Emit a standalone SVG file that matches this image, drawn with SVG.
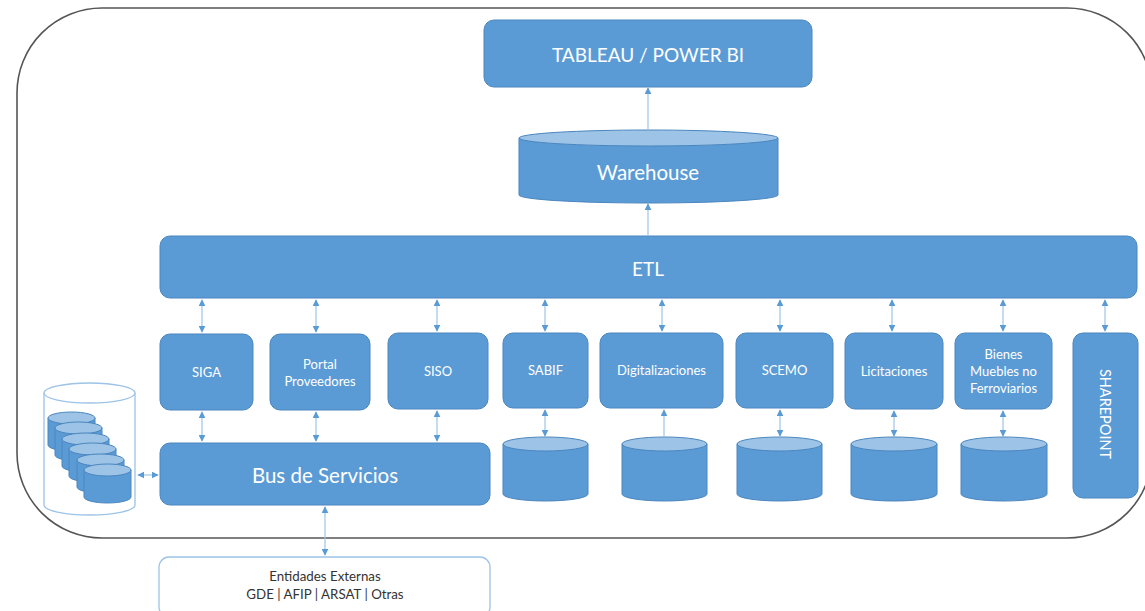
<svg xmlns="http://www.w3.org/2000/svg" width="1145" height="611" viewBox="0 0 1145 611">
  <defs>
    <marker id="ah" viewBox="0 0 10 10" refX="9" refY="5" markerWidth="7" markerHeight="7" markerUnits="userSpaceOnUse" orient="auto-start-reverse">
      <path d="M0,0 L10,5 L0,10 Z" fill="#5B9BD5"/>
    </marker>
  </defs>
  <style>
    .box { fill: #5B9BD5; stroke: #4A86BF; stroke-width: 1; }
    .top { fill: #9DC3E6; stroke: #4A86BF; stroke-width: 1; }
    .lbl { font-family: Lato, "Open Sans", sans-serif; fill: #FFFFFF; text-anchor: middle; dominant-baseline: central; }
    .sm { font-size: 13px; }
    .lg { font-size: 19px; }
    .xl { font-size: 20.5px; }
    .ext { font-family: Lato, "Open Sans", sans-serif; font-size: 13.3px; fill: #333333; text-anchor: middle; dominant-baseline: central; }
    .wire { stroke: #9DC3E6; stroke-width: 1.2; fill: none; }
    .two { marker-start: url(#ah); marker-end: url(#ah); }
    .one { marker-end: url(#ah); }
  </style>

  <!-- outer frame -->
  <rect x="17" y="8" width="1135" height="530" rx="85" ry="85" fill="none" stroke="#555555" stroke-width="1.6"/>

  <g id="tableau">
    <rect class="box" x="484" y="20" width="328" height="67" rx="10"/>
    <text class="lbl lg" x="648" y="54">TABLEAU / POWER BI</text>
  </g>

  <g id="warehouse">
    <path class="box" d="M519,138 L519,195 A129.5,8 0 0 0 778,195 L778,138 Z"/>
    <ellipse class="top" cx="648.5" cy="138" rx="129.5" ry="8"/>
    <text class="lbl xl" x="648" y="172">Warehouse</text>
  </g>

  <g id="etl">
    <rect class="box" x="160" y="236" width="977" height="62" rx="10"/>
    <text class="lbl lg" x="648" y="268">ETL</text>
  </g>

  <g id="siga">
    <rect class="box" x="160" y="334" width="93" height="76" rx="10"/>
    <text class="lbl sm" x="206.5" y="372">SIGA</text>
  </g>
  <g id="portal">
    <rect class="box" x="270" y="334" width="100" height="76" rx="10"/>
    <text class="lbl sm" x="320" y="364">Portal</text>
    <text class="lbl sm" x="320" y="381">Proveedores</text>
  </g>
  <g id="siso">
    <rect class="box" x="388" y="333" width="100" height="76" rx="10"/>
    <text class="lbl sm" x="438" y="371">SISO</text>
  </g>
  <g id="sabif">
    <rect class="box" x="503" y="333" width="85" height="75" rx="10"/>
    <text class="lbl sm" x="545.5" y="370">SABIF</text>
  </g>
  <g id="digitalizaciones">
    <rect class="box" x="600" y="333" width="123" height="75" rx="10"/>
    <text class="lbl sm" x="661.5" y="370">Digitalizaciones</text>
  </g>
  <g id="scemo">
    <rect class="box" x="736" y="333" width="97" height="75" rx="10"/>
    <text class="lbl sm" x="784.5" y="370">SCEMO</text>
  </g>
  <g id="licitaciones">
    <rect class="box" x="845" y="333" width="98" height="76" rx="10"/>
    <text class="lbl sm" x="894" y="371">Licitaciones</text>
  </g>
  <g id="bienes">
    <rect class="box" x="955" y="333" width="97" height="76" rx="10"/>
    <text class="lbl sm" x="1003.5" y="354">Bienes</text>
    <text class="lbl sm" x="1003.5" y="371">Muebles no</text>
    <text class="lbl sm" x="1003.5" y="388">Ferroviarios</text>
  </g>
  <g id="sharepoint">
    <rect class="box" x="1073" y="333" width="65" height="165" rx="10"/>
    <text class="lbl" font-size="14.5" x="0" y="0" transform="translate(1105.5,414) rotate(90)">SHAREPOINT</text>
  </g>

  <g id="bus">
    <rect class="box" x="160" y="443" width="330" height="62" rx="10"/>
    <text class="lbl xl" x="325" y="475">Bus de Servicios</text>
  </g>

  <g id="externas">
    <rect x="159" y="557" width="331" height="60" rx="10" fill="#FFFFFF" stroke="#9DC3E6" stroke-width="1.3"/>
    <text class="ext" x="325" y="576">Entidades Externas</text>
    <text class="ext" x="325" y="594">GDE | AFIP | ARSAT | Otras</text>
  </g>

  <!-- databases under the systems -->
  <g id="db-sabif">
    <path class="box" d="M503,444 L503,494 A42.5,7 0 0 0 588,494 L588,444 Z"/>
    <ellipse class="top" cx="545.5" cy="444" rx="42.5" ry="7"/>
  </g>
  <g id="db-digitalizaciones">
    <path class="box" d="M622,444 L622,494 A42.5,7 0 0 0 707,494 L707,444 Z"/>
    <ellipse class="top" cx="664.5" cy="444" rx="42.5" ry="7"/>
  </g>
  <g id="db-scemo">
    <path class="box" d="M737,444 L737,494 A42.5,7 0 0 0 822,494 L822,444 Z"/>
    <ellipse class="top" cx="779.5" cy="444" rx="42.5" ry="7"/>
  </g>
  <g id="db-licitaciones">
    <path class="box" d="M851,444 L851,494 A43,7 0 0 0 937,494 L937,444 Z"/>
    <ellipse class="top" cx="894" cy="444" rx="43" ry="7"/>
  </g>
  <g id="db-bienes">
    <path class="box" d="M961,444 L961,494 A43,7 0 0 0 1047,494 L1047,444 Z"/>
    <ellipse class="top" cx="1004" cy="444" rx="43" ry="7"/>
  </g>

  <!-- storage array: transparent drum holding a stack of disks -->
  <g id="storage">
    <path d="M44,393 L44,505 A45.5,10 0 0 0 135,505 L135,393" fill="#FFFFFF" stroke="#9DC3E6" stroke-width="1.3"/>
    <ellipse cx="89.5" cy="393" rx="45.5" ry="10" fill="#FFFFFF" stroke="#9DC3E6" stroke-width="1.3"/>
    <g transform="translate(48,412)">
      <path class="box" d="M0,6 L0,33 A23.5,6 0 0 0 47,33 L47,6 Z"/>
      <ellipse class="top" cx="23.5" cy="6" rx="23.5" ry="6"/>
    </g>
    <g transform="translate(55,422)">
      <path class="box" d="M0,6 L0,33 A23.5,6 0 0 0 47,33 L47,6 Z"/>
      <ellipse class="top" cx="23.5" cy="6" rx="23.5" ry="6"/>
    </g>
    <g transform="translate(62,433)">
      <path class="box" d="M0,6 L0,33 A23.5,6 0 0 0 47,33 L47,6 Z"/>
      <ellipse class="top" cx="23.5" cy="6" rx="23.5" ry="6"/>
    </g>
    <g transform="translate(69,443)">
      <path class="box" d="M0,6 L0,33 A23.5,6 0 0 0 47,33 L47,6 Z"/>
      <ellipse class="top" cx="23.5" cy="6" rx="23.5" ry="6"/>
    </g>
    <g transform="translate(77,454)">
      <path class="box" d="M0,6 L0,33 A23.5,6 0 0 0 47,33 L47,6 Z"/>
      <ellipse class="top" cx="23.5" cy="6" rx="23.5" ry="6"/>
    </g>
    <g transform="translate(84,464)">
      <path class="box" d="M0,6 L0,33 A23.5,6 0 0 0 47,33 L47,6 Z"/>
      <ellipse class="top" cx="23.5" cy="6" rx="23.5" ry="6"/>
    </g>
  </g>

  <!-- connectors -->
  <g id="connectors">
    <line class="wire one" x1="648" y1="130" x2="648" y2="88"/>
    <line class="wire one" x1="648" y1="236" x2="648" y2="204"/>

    <line class="wire two" x1="202" y1="300" x2="202" y2="332"/>
    <line class="wire two" x1="316" y1="300" x2="316" y2="332"/>
    <line class="wire two" x1="437" y1="300" x2="437" y2="331"/>
    <line class="wire two" x1="545" y1="300" x2="545" y2="331"/>
    <line class="wire two" x1="662" y1="300" x2="662" y2="331"/>
    <line class="wire two" x1="780" y1="300" x2="780" y2="331"/>
    <line class="wire two" x1="892" y1="300" x2="892" y2="331"/>
    <line class="wire two" x1="1003" y1="300" x2="1003" y2="331"/>
    <line class="wire two" x1="1105" y1="300" x2="1105" y2="331"/>

    <line class="wire two" x1="202" y1="412" x2="202" y2="441"/>
    <line class="wire two" x1="316" y1="412" x2="316" y2="441"/>
    <line class="wire two" x1="437" y1="411" x2="437" y2="441"/>

    <line class="wire two" x1="545" y1="410" x2="545" y2="436"/>
    <line class="wire one" x1="664" y1="437" x2="664" y2="410"/>
    <line class="wire two" x1="780" y1="410" x2="780" y2="436"/>
    <line class="wire two" x1="894" y1="411" x2="894" y2="436"/>
    <line class="wire two" x1="1003" y1="411" x2="1003" y2="436"/>

    <line class="wire two" x1="138" y1="475" x2="158" y2="475"/>
    <line class="wire two" x1="325" y1="507" x2="325" y2="555"/>
  </g>
</svg>
